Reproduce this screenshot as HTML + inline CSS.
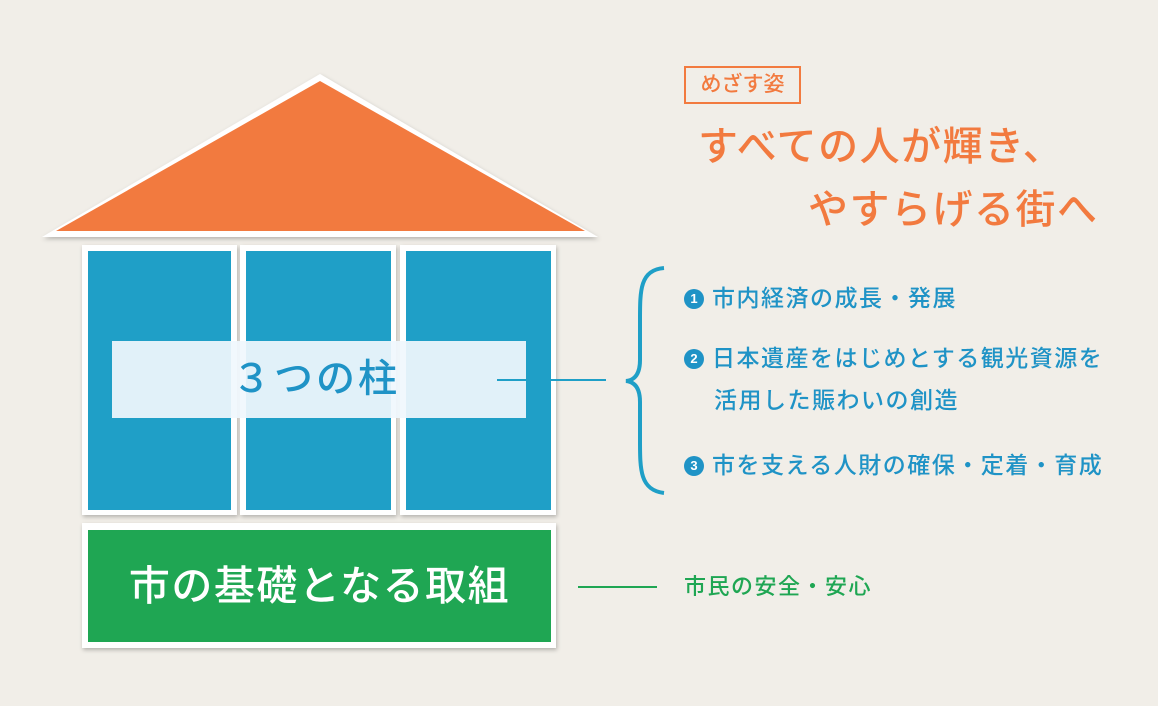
<!DOCTYPE html>
<html><head><meta charset="utf-8"><style>
body{margin:0;width:1158px;height:706px;background:#f1eee8;position:relative;overflow:hidden;font-family:"Liberation Sans","Noto Sans CJK JP",sans-serif}
.a{position:absolute;white-space:nowrap}
.fr{position:absolute;background:#fff;box-shadow:1px 2px 4px rgba(0,0,0,.25)}
.bl{position:absolute;background:#1f9fc7}
.it{position:absolute;color:#1f93c6;font-size:23px;line-height:42px;white-space:nowrap;font-weight:500;letter-spacing:1.5px}
.n{display:inline-block;width:20px;height:20px;border-radius:50%;background:#1f93c6;color:#fff;font-size:13px;line-height:20px;text-align:center;font-weight:bold;vertical-align:3px;margin-right:8px;letter-spacing:0}
</style></head><body>
<svg class="a" style="left:0;top:0" width="1158" height="706">
<defs><filter id="s"><feDropShadow dx="1" dy="2" stdDeviation="2" flood-opacity=".25"/></filter></defs>
<polygon points="320,74 598,237 42,237" fill="#fff" filter="url(#s)"/>
<polygon points="320,81 585,231 56,231" fill="#f27a3f"/>
<path d="M664,268 C640,270 640,290 640,320 L640,360 C640,372 636,380 626,381 C636,382 640,390 640,402 L640,440 C640,470 640,490 664,493" stroke="#1f9fc7" stroke-width="4" fill="none"/>
<line x1="578" y1="587" x2="657" y2="587" stroke="#1fa653" stroke-width="2"/>
</svg>
<div class="fr" style="left:82px;top:245px;width:155px;height:270px"></div>
<div class="fr" style="left:240px;top:245px;width:156px;height:270px"></div>
<div class="fr" style="left:400px;top:245px;width:156px;height:270px"></div>
<div class="bl" style="left:88px;top:251px;width:143px;height:259px"></div>
<div class="bl" style="left:246px;top:251px;width:145px;height:259px"></div>
<div class="bl" style="left:406px;top:251px;width:145px;height:259px"></div>
<div class="a" style="left:112px;top:341px;width:414px;height:77px;background:rgba(240,248,253,.93);color:#1f93c6;font-size:39px;line-height:77px;text-align:center;letter-spacing:3px;font-weight:500"><span style="margin-left:-6px">３つの柱</span></div>
<svg class="a" style="left:0;top:0" width="1158" height="706">
<line x1="497" y1="380" x2="606" y2="380" stroke="#1f9fc7" stroke-width="2"/>
</svg>
<div class="fr" style="left:82px;top:523px;width:474px;height:125px"></div>
<div class="a" style="left:88px;top:530px;width:463px;height:112px;background:#1fa653;color:#fff;font-size:41px;line-height:112px;text-align:center;letter-spacing:1.5px;font-weight:500">市の基礎となる取組</div>
<div class="a" style="left:684px;top:66px;width:113px;height:34px;border:2px solid #f27a3f;color:#f27a3f;font-size:21px;line-height:34px;text-align:center;font-weight:500">めざす姿</div>
<div class="a" style="left:698px;top:122px;color:#f27a3f;font-size:40px;line-height:50px;letter-spacing:1.5px;font-weight:500">すべての人が輝き、</div>
<div class="a" style="left:808px;top:185px;color:#f27a3f;font-size:40px;line-height:50px;letter-spacing:1.5px;font-weight:500">やすらげる街へ</div>
<div class="it" style="left:684px;top:277px"><span class="n">1</span>市内経済の成長・発展</div>
<div class="it" style="left:684px;top:337px"><span class="n">2</span>日本遺産をはじめとする観光資源を</div>
<div class="it" style="left:714px;top:379px">活用した賑わいの創造</div>
<div class="it" style="left:684px;top:444px"><span class="n">3</span>市を支える人財の確保・定着・育成</div>
<div class="it" style="left:684px;top:566px;color:#1fa653;font-size:22px;letter-spacing:1.5px">市民の安全・安心</div>
</body></html>
